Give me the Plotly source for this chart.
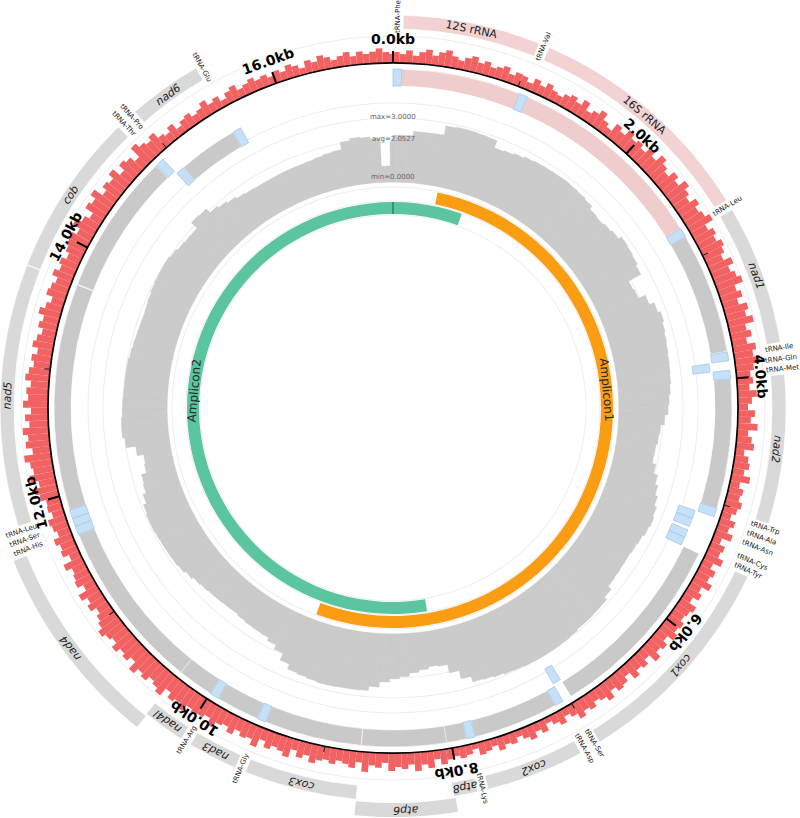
import math
import plotly.graph_objects as go

# ---------------- data ----------------
GENOME_LEN = 16930

gene_names = ["tRNA-Phe", "12S rRNA", "tRNA-Val", "16S rRNA", "tRNA-Leu", "nad1", "tRNA-Ile", "tRNA-Gln",
              "tRNA-Met", "nad2", "tRNA-Trp", "tRNA-Ala", "tRNA-Asn", "tRNA-Cys", "tRNA-Tyr", "cox1",
              "tRNA-Ser", "tRNA-Asp", "cox2", "tRNA-Lys", "atp8", "atp6", "cox3", "tRNA-Gly", "nad3",
              "tRNA-Arg", "nad4l", "nad4", "tRNA-His", "tRNA-Ser", "tRNA-Leu", "nad5", "cob", "tRNA-Thr",
              "tRNA-Pro", "nad6", "tRNA-Glu"]
gene_starts = [1, 70, 1031, 1101, 2731, 2805, 3785, 3860, 3932, 4001, 5041, 5115, 5186, 5290, 5358, 5430,
               6978, 7050, 7120, 7807, 7878, 8036, 8720, 9505, 9575, 9928, 9998, 10288, 11667, 11737, 11804,
               11874, 13705, 14850, 14925, 15000, 15518]
gene_ends = [69, 1030, 1100, 2730, 2804, 3780, 3855, 3930, 4000, 5040, 5112, 5184, 5258, 5356, 5428, 6975,
             7046, 7118, 7805, 7876, 8045, 8719, 9504, 9574, 9926, 9997, 10294, 11665, 11736, 11803, 11873,
             13700, 14845, 14920, 14995, 15515, 15588]
gene_strands = [1, 1, 1, 1, 1, 1, 1, -1, 1, 1, 1, -1, -1, -1, -1, 1, -1, 1, 1, 1, 1, 1, 1, 1, 1, 1, 1, 1,
                1, 1, 1, 1, 1, 1, -1, -1, -1]
gene_types = ["tRNA", "rRNA", "tRNA", "rRNA", "tRNA", "CDS", "tRNA", "tRNA", "tRNA", "CDS", "tRNA", "tRNA",
              "tRNA", "tRNA", "tRNA", "CDS", "tRNA", "tRNA", "CDS", "tRNA", "CDS", "CDS", "CDS", "tRNA", "CDS",
              "tRNA", "CDS", "CDS", "tRNA", "tRNA", "tRNA", "CDS", "CDS", "tRNA", "tRNA", "CDS", "tRNA"]

# red histogram, 50 bp windows (one row per kb)
GC_WINDOW = 50
gc_values = [
    11, 9, 13, 8, 12, 15, 10, 14, 17, 12, 9, 13, 16, 11, 14, 10, 12, 15, 9, 13,
    12, 8, 14, 10, 15, 11, 9, 13, 16, 12, 18, 10, 14, 19, 12, 8, 17, 13, 20, 15,
    18, 14, 21, 16, 24, 19, 15, 22, 17, 25, 20, 16, 23, 18, 21, 26, 17, 22, 19, 24,
    21, 17, 25, 19, 23, 27, 18, 22, 16, 24, 20, 26, 17, 21, 15, 23, 19, 25, 18, 14,
    16, 12, 19, 14, 10, 17, 13, 20, 11, 15, 18, 9, 14, 16, 12, 19, 10, 15, 13, 17,
    14, 10, 16, 12, 18, 9, 15, 13, 19, 11, 17, 14, 20, 12, 16, 10, 18, 15, 13, 17,
    15, 19, 12, 17, 14, 20, 11, 16, 13, 18, 10, 15, 17, 12, 19, 14, 11, 16, 13, 18,
    12, 8, 14, 10, 6, 13, 9, 15, 11, 7, 12, 10, 14, 8, 11, 13, 6, 10, 12, 9,
    11, 15, 9, 17, 13, 19, 12, 16, 14, 18, 10, 15, 13, 20, 11, 17, 14, 12, 16, 13,
    15, 19, 13, 17, 11, 20, 16, 14, 18, 12, 21, 15, 17, 13, 19, 14, 16, 22, 15, 18,
    20, 17, 24, 19, 22, 16, 25, 21, 18, 23, 20, 26, 17, 22, 19, 24, 18, 21, 25, 20,
    17, 13, 19, 15, 21, 12, 18, 16, 14, 20, 11, 17, 15, 19, 13, 16, 18, 12, 15, 14,
    19, 23, 17, 25, 20, 22, 27, 18, 24, 21, 26, 19, 23, 17, 25, 20, 22, 18, 24, 21,
    17, 20, 15, 21, 18, 14, 19, 16, 22, 17, 13, 20, 18, 15, 21, 16, 19, 14, 18, 20,
    21, 16, 24, 18, 13, 22, 19, 25, 15, 20, 17, 23, 14, 21, 18, 12, 24, 19, 16, 20,
    13, 10, 15, 8, 12, 14, 9, 11, 16, 10, 13, 7, 12, 15, 9, 11, 14, 10, 12, 8,
    12, 9, 14, 11, 7, 13, 10, 15, 12, 8, 11, 14, 9, 13, 10, 12, 15, 11, 9]

# sequencing depth, 100 bp windows (one row per kb)
DEPTH_WINDOW = 100
depth_values = [
    2.2, 2.2, 2.4, 2.4, 2.42, 2.86, 2.9, 2.9, 2.88, 2.85,
    2.5, 2.55, 2.62, 2.7, 2.74, 2.76, 2.77, 2.78, 2.76, 2.74,
    2.68, 2.52, 2.48, 2.55, 2.62, 2.78, 2.74, 2.7, 2.6, 1.95,
    2.0, 2.36, 2.6, 2.73, 2.65, 2.6, 2.56, 2.52, 2.5, 2.47,
    2.42, 2.35, 2.3, 2.15, 1.97, 1.92, 1.85, 1.83, 2.0, 2.2,
    2.35, 2.48, 2.6, 2.67, 2.62, 2.53, 2.48, 2.44, 2.45, 2.47,
    2.5, 2.7, 2.86, 2.88, 2.9, 2.9, 2.95, 2.98, 3.0, 3.0,
    3.0, 2.98, 2.95, 2.93, 2.88, 2.82, 2.78, 2.5, 2.1, 1.7,
    1.65, 1.75, 1.85, 2.0, 2.1, 2.25, 2.5, 2.7, 2.72, 2.72,
    2.74, 2.74, 2.7, 2.65, 2.6, 2.35, 2.0, 1.8, 1.65, 1.62,
    1.6, 1.55, 1.5, 1.52, 1.55, 1.58, 1.62, 1.68, 1.78, 1.88,
    1.93, 1.94, 1.95, 1.97, 2.0, 2.0, 1.95, 1.8, 1.65, 1.6,
    1.35, 1.3, 1.6, 2.05, 2.16, 2.15, 2.1, 2.08, 2.05, 2.04,
    2.03, 2.02, 1.97, 1.93, 1.9, 1.88, 1.87, 1.9, 1.95, 2.0,
    2.03, 2.05, 2.06, 2.0, 1.92, 1.88, 1.87, 2.24, 2.2, 1.95,
    1.85, 1.75, 1.65, 1.6, 1.57, 1.57, 1.58, 1.59, 1.6, 1.6,
    1.62, 1.66, 1.72, 1.75, 2.1, 2.19, 2.15, 2.05, 0.75, 1.9]
depth_min, depth_avg, depth_max = 0.0, 2.0527, 3.0

amplicon_names = ["Amplicon1", "Amplicon2"]
amplicon_starts = [550, 8017]
amplicon_ends = [9425, 917]        # Amplicon2 wraps over the origin
amplicon_colors = ["#fb9d12", "#5ac59f"]

tick_major_kb = [0, 2, 4, 6, 8, 10, 12, 14, 16]
tick_minor_kb = [1, 3, 5, 7, 9, 11, 13, 15]

# ---------------- layout geometry ----------------
W, H = 800, 818
CX, CY, RPX = 393, 408, 393          # polar centre / radius in pixels (1 radial unit = 1 px)

R_DEPTH0, R_DEPTH1 = 226, 290
R_AMP = {"Amplicon1": (208, 12), "Amplicon2": (194, 12)}
R_INNER_PLUS, R_INNER_MINUS, R_INNER_H = 322, 302, 17
R_BASE = 345
R_OUTER0, R_OUTER_H, R_ROW_STEP = 379, 14, 16

COL_GRAY_IN = "#c9c9c9"
COL_GRAY_OUT = "#d9d9d9"
COL_PINK_IN = "#f0cdcd"
COL_PINK_OUT = "#f2d2d2"
COL_TRNA = "#c6e0f7"
COL_RED = "#f26262"
FONT = "DejaVu Sans"


def deg(bp):
    return bp / GENOME_LEN * 360.0


def span(start, end):
    length = (end - start) % GENOME_LEN if end < start else end - start
    return deg(start + length / 2.0) % 360, deg(length)


def to_paper(r, theta):
    a = math.radians(theta)
    return (CX + r * math.sin(a)) / W, 1 - (CY - r * math.cos(a)) / H


def norm_angle(a):
    return ((a + 180) % 360) - 180


fig = go.Figure()
shapes = []


def ring(r, color, thick=1.0):
    fig.add_trace(go.Barpolar(theta=[180], width=[360], base=[r - thick / 2], r=[thick],
                              marker=dict(color=color, line=dict(width=0)), hoverinfo="skip",
                              showlegend=False))


# faint guide circles
for rr in [193, 207, 221, R_DEPTH0, 270, R_DEPTH1, 305, 372]:
    ring(rr, "#eeeeee", 1.0)

# ---------------- depth track ----------------
d_theta, d_width, d_r = [], [], []
for i, v in enumerate(depth_values):
    s = i * DEPTH_WINDOW
    e = min(s + DEPTH_WINDOW, GENOME_LEN)
    c, w = span(s, e)
    d_theta.append(c)
    d_width.append(w)
    d_r.append((v - depth_min) / (depth_max - depth_min) * (R_DEPTH1 - R_DEPTH0))
fig.add_trace(go.Barpolar(theta=d_theta, width=d_width, r=d_r, base=[R_DEPTH0] * len(d_r),
                          marker=dict(color="#cbcbcb", line=dict(color="#c3c3c3", width=0.4)),
                          hoverinfo="skip", showlegend=False))

# ---------------- amplicon track ----------------
for name, s, e, col in zip(amplicon_names, amplicon_starts, amplicon_ends, amplicon_colors):
    c, w = span(s, e)
    b, h = R_AMP[name]
    fig.add_trace(go.Barpolar(theta=[c], width=[w], base=[b], r=[h],
                              marker=dict(color=col, line=dict(width=0)), hoverinfo="skip",
                              showlegend=False))
fig.add_trace(go.Barpolar(theta=[0], width=[0.2], base=[194], r=[12],
                          marker=dict(color="#222222", line=dict(width=0)), hoverinfo="skip",
                          showlegend=False))

# ---------------- inner feature track (strand offset) ----------------
for gtype, col in [("CDS", COL_GRAY_IN), ("rRNA", COL_PINK_IN), ("tRNA", COL_TRNA)]:
    th, wd, bs = [], [], []
    for n, s, e, st, t in zip(gene_names, gene_starts, gene_ends, gene_strands, gene_types):
        if t != gtype:
            continue
        c, w = span(s - 1, e)
        th.append(c)
        wd.append(w)
        bs.append(R_INNER_PLUS if st > 0 else R_INNER_MINUS)
    line = dict(color="#9fc3e6", width=0.7) if gtype == "tRNA" else dict(color="white", width=0.6)
    fig.add_trace(go.Barpolar(theta=th, width=wd, base=bs, r=[R_INNER_H] * len(th),
                              marker=dict(color=col, line=line), hoverinfo="skip", showlegend=False))

# ---------------- histogram ----------------
g_theta, g_width = [], []
for i in range(len(gc_values)):
    s = i * GC_WINDOW
    e = min(s + GC_WINDOW, GENOME_LEN)
    c, w = span(s, e)
    g_theta.append(c)
    g_width.append(w)
fig.add_trace(go.Barpolar(theta=g_theta, width=g_width, r=gc_values, base=[R_BASE] * len(gc_values),
                          marker=dict(color=COL_RED, line=dict(width=0)), hoverinfo="skip",
                          showlegend=False))
ring(R_BASE, "#000000", 1.7)

# ticks
fig.add_trace(go.Barpolar(theta=[deg(k * 1000) for k in tick_major_kb], width=[0.33] * len(tick_major_kb),
                          base=[R_BASE] * len(tick_major_kb), r=[12] * len(tick_major_kb),
                          marker=dict(color="#000000", line=dict(width=0)), hoverinfo="skip",
                          showlegend=False))
fig.add_trace(go.Barpolar(theta=[deg(k * 1000) for k in tick_minor_kb], width=[0.17] * len(tick_minor_kb),
                          base=[R_BASE] * len(tick_minor_kb), r=[6] * len(tick_minor_kb),
                          marker=dict(color="#222222", line=dict(width=0)), hoverinfo="skip",
                          showlegend=False))

# ---------------- outer labelled feature track ----------------
rows = {}
row_end = []
for n, s, e, t in sorted(zip(gene_names, gene_starts, gene_ends, gene_types), key=lambda x: x[1]):
    if t == "tRNA":
        continue
    row = 0
    while row < len(row_end) and s <= row_end[row]:
        row += 1
    if row == len(row_end):
        row_end.append(e)
    else:
        row_end[row] = e
    rows[(n, s)] = row

for gtype, col in [("CDS", COL_GRAY_OUT), ("rRNA", COL_PINK_OUT)]:
    th, wd, bs = [], [], []
    for n, s, e, t in zip(gene_names, gene_starts, gene_ends, gene_types):
        if t != gtype:
            continue
        base = R_OUTER0 + rows[(n, s)] * R_ROW_STEP
        if rows[(n, s)] == 0:
            c, w = span(s - 1, e)
            th.append(c)
            wd.append(w)
            bs.append(base)
        else:
            # stacked row lies outside the polar area: drawn as a paper-space band
            t0, t1 = deg(s - 1), deg(e)
            k = max(2, int((t1 - t0) / 0.5) + 1)
            arc = [t0 + (t1 - t0) * j / (k - 1) for j in range(k)]
            pts = [to_paper(base + R_OUTER_H, a) for a in arc] + [to_paper(base, a) for a in arc[::-1]]
            path = "M " + " L ".join("%.6f,%.6f" % p for p in pts) + " Z"
            shapes.append(dict(type="path", xref="paper", yref="paper", path=path,
                               fillcolor=col, line=dict(width=0), layer="below"))
    fig.add_trace(go.Barpolar(theta=th, width=wd, base=bs, r=[R_OUTER_H] * len(th),
                              marker=dict(color=col, line=dict(color="white", width=0.6)),
                              hoverinfo="skip", showlegend=False))

annotations = []
# gene labels on outer ring
for n, s, e, t in zip(gene_names, gene_starts, gene_ends, gene_types):
    c, w = span(s - 1, e)
    if t == "tRNA":
        x, y = to_paper(391, c)
        ang = c - 90 if c < 180 else c + 90
        annotations.append(dict(x=x, y=y, xref="paper", yref="paper", text=n, showarrow=False,
                                textangle=norm_angle(ang), font=dict(family=FONT, size=7, color="#222222"),
                                bgcolor="white", borderpad=1, xanchor="center", yanchor="middle"))
    else:
        rr = R_OUTER0 + rows[(n, s)] * R_ROW_STEP + R_OUTER_H / 2
        x, y = to_paper(rr, c)
        txt = n if t == "rRNA" else "<i>%s</i>" % n
        annotations.append(dict(x=x, y=y, xref="paper", yref="paper", text=txt, showarrow=False,
                                textangle=norm_angle(c), font=dict(family=FONT, size=11, color="#222222"),
                                xanchor="center", yanchor="middle"))

# tick labels
for k in tick_major_kb:
    c = deg(k * 1000)
    x, y = to_paper(369, c)
    annotations.append(dict(x=x, y=y, xref="paper", yref="paper", text="<b>%.1fkb</b>" % k,
                            showarrow=False, textangle=norm_angle(c),
                            font=dict(family=FONT, size=14, color="#000000"),
                            xanchor="center", yanchor="middle"))

# depth labels
for txt, rr in [("max=%.4f" % depth_max, 291), ("avg=%.4f" % depth_avg, 269), ("min=%.4f" % depth_min, 231)]:
    x, y = to_paper(rr, 0)
    annotations.append(dict(x=x, y=y, xref="paper", yref="paper", text=txt, showarrow=False,
                            font=dict(family=FONT, size=7, color="#666666"),
                            xanchor="center", yanchor="middle"))

# amplicon labels
for name, ang, rr in [("Amplicon1", 85, 214), ("Amplicon2", 275, 200)]:
    x, y = to_paper(rr, ang)
    annotations.append(dict(x=x, y=y, xref="paper", yref="paper", text=name, showarrow=False,
                            textangle=norm_angle(ang), font=dict(family=FONT, size=12, color="#2a2a2a"),
                            xanchor="center", yanchor="middle"))

fig.update_layout(
    width=W, height=H, margin=dict(l=0, r=0, t=0, b=0),
    paper_bgcolor="white", plot_bgcolor="white", showlegend=False,
    polar=dict(
        domain=dict(x=[0, 2 * CX / W], y=[1 - CY / H - RPX / H, 1 - CY / H + RPX / H]),
        bgcolor="rgba(0,0,0,0)", barmode="overlay", hole=0,
        radialaxis=dict(range=[0, RPX], visible=False, showgrid=False),
        angularaxis=dict(visible=False, rotation=90, direction="clockwise", showgrid=False),
    ),
    annotations=annotations,
    shapes=shapes,
)

fig.write_html("out.html", config={"displayModeBar": False},
               post_script="document.body.style.margin='0px';")
